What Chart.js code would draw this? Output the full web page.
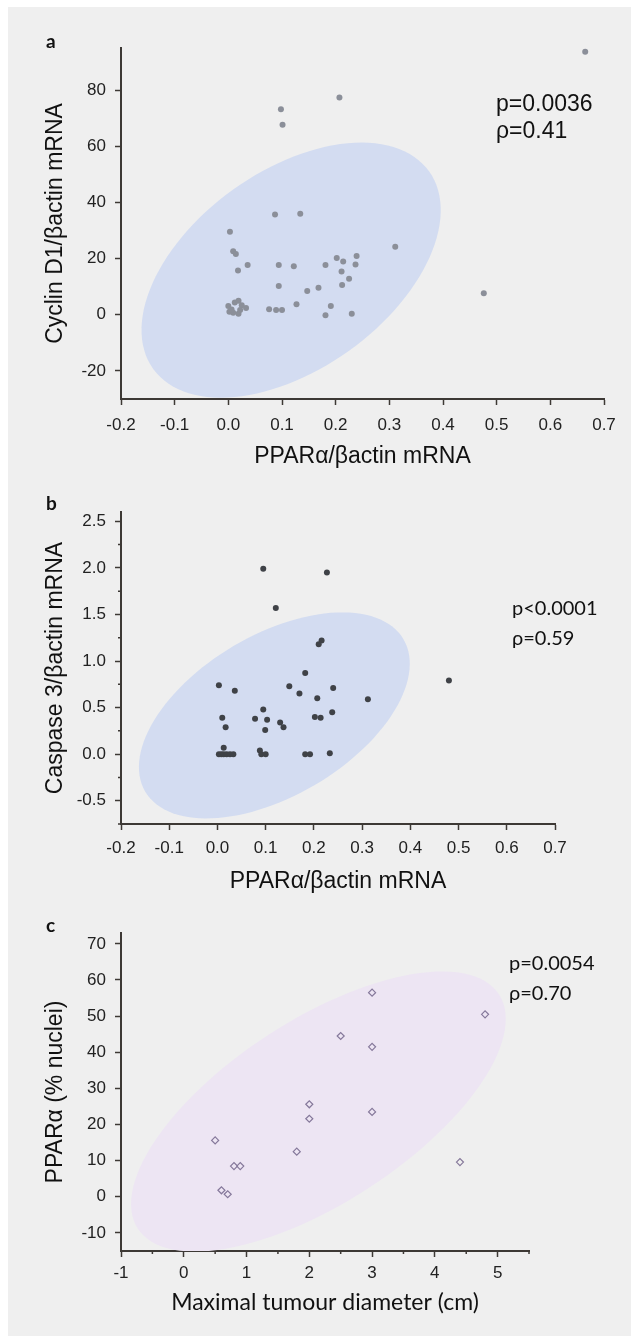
<!DOCTYPE html>
<html>
<head>
<meta charset="utf-8">
<script src="https://cdn.jsdelivr.net/npm/chart.js@4.4.0/dist/chart.umd.min.js"></script>
<style>
  body { margin: 0; background: #fff; width: 643px; height: 1343px; position: relative; overflow: hidden; }
  #sheet { position: absolute; left: 8px; top: 7px; width: 623px; height: 1329px; background: #efefef; }
  canvas { position: absolute; left: 0; }
  .letter { position: absolute; font: bold 19px Lato, sans-serif; line-height: 19px; color: #111; }
  .stat { position: absolute; color: #111; white-space: pre; }
  .arial { font: 23px "Liberation Sans", Arial, sans-serif; line-height: 27px; }
  .calibri { font: 20px Lato, sans-serif; line-height: 30px; }
</style>
</head>
<body>
<div id="sheet"></div>
<canvas id="chartA" width="643" height="490" style="top:0px"></canvas>
<canvas id="chartB" width="643" height="430" style="top:480px"></canvas>
<canvas id="chartC" width="643" height="443" style="top:900px"></canvas>

<div class="letter" style="left:46px;top:31px">a</div>
<div class="letter" style="left:46px;top:493px">b</div>
<div class="letter" style="left:46px;top:915px">c</div>

<div class="stat arial" style="left:496px;top:90px">p=0.0036
ρ=0.41</div>
<div class="stat calibri" style="left:512px;top:592px">p&lt;0.0001
ρ=0.59</div>
<div class="stat calibri" style="left:509px;top:947px">p=0.0054
ρ=0.70</div>

<script>
// a: Cyclin D1 vs PPARa
const aX = [0.087, 0.134, 0.003, 0.009, 0.014, 0.018, 0.036, 0.094, 0.122, 0.094, 0.181, 0.202, 0.214, 0.239, 0.237,
  0.211, 0.225, 0.212, 0.168, 0.147, 0.127, 0.191, 0.181, 0.230, 0.076, 0.089, 0.100, 0.311,
  0.000, 0.012, 0.019, 0.025, 0.033, 0.002, 0.009, 0.019, 0.006, 0.022,
  0.098, 0.101, 0.207, 0.665, 0.476];
const aY = [35.7, 36.0, 29.6, 22.6, 21.6, 15.8, 17.7, 17.7, 17.3, 10.2, 17.7, 20.2, 19.0, 20.9, 17.9,
  15.4, 12.8, 10.6, 9.6, 8.5, 3.7, 3.1, -0.2, 0.4, 2.0, 1.7, 1.7, 24.2,
  3.1, 4.4, 5.0, 3.4, 2.4, 1.1, 0.7, 0.4, 1.9, 1.7,
  73.2, 67.7, 77.4, 93.7, 7.7];

// b: Caspase 3 vs PPARa
const bX = [0.121, 0.216, 0.210, 0.182, 0.003, 0.036, 0.149, 0.170, 0.240, 0.207, 0.312, 0.095, 0.010, 0.078,
  0.103, 0.202, 0.214, 0.238, 0.017, 0.130, 0.137, 0.099,
  0.003, 0.008, 0.013, 0.019, 0.026, 0.033, 0.013, 0.088, 0.091, 0.100, 0.182, 0.192, 0.233,
  0.095, 0.227, 0.480];
const bY = [1.57, 1.22, 1.18, 0.87, 0.74, 0.68, 0.73, 0.65, 0.71, 0.60, 0.59, 0.48, 0.39, 0.38,
  0.37, 0.40, 0.39, 0.45, 0.29, 0.34, 0.29, 0.26,
  0, 0, 0, 0, 0, 0, 0.07, 0.04, 0, 0, 0, 0, 0.01,
  1.99, 1.95, 0.79];

// c: PPARa nuclei vs tumour diameter
const cX = [0.5, 0.6, 0.7, 0.8, 0.9, 1.8, 2.0, 2.0, 2.5, 3.0, 3.0, 3.0, 4.4, 4.8];
const cY = [15.6, 1.8, 0.7, 8.5, 8.5, 12.5, 25.6, 21.6, 44.5, 56.5, 41.5, 23.5, 9.6, 50.5];

// confidence ellipses, centre + two half-diameters in data units
const aEllipse = { cx: 0.117, cy: 15.9, ux: 0.257, uy: 35.2, vx: -0.108, vy: 28.7 };
const bEllipse = { cx: 0.118, cy: 0.416, ux: 0.268, uy: 0.816, vx: -0.084, vy: 0.747 };
const cEllipse = { cx: 2.145, cy: 23.6, ux: 2.879, uy: 32.36, vx: -0.788, vy: 21.33 };

const bMinorTicks = [-0.75, -0.25, 0.25, 0.75, 1.25, 1.75, 2.25];
const cMinorTicks = [-0.5, 0.5, 1.5, 2.5, 3.5, 4.5, 5.5];

const axisColor = '#3d3935';
const arial = '"Liberation Sans", Arial, sans-serif';

const ellipsePlugin = {
  id: 'ellipse',
  beforeDatasetsDraw(chart, args, opts) {
    const { ctx, chartArea, scales: { x, y } } = chart;
    const e = opts.shape;
    if (!e) return;
    ctx.save();
    ctx.beginPath();
    ctx.rect(chartArea.left, chartArea.top, chartArea.width, chartArea.height);
    ctx.clip();
    ctx.beginPath();
    for (let i = 0; i <= 120; i++) {
      const t = i / 120 * Math.PI * 2;
      const px = x.getPixelForValue(e.cx + e.ux * Math.cos(t) + e.vx * Math.sin(t));
      const py = y.getPixelForValue(e.cy + e.uy * Math.cos(t) + e.vy * Math.sin(t));
      if (i === 0) ctx.moveTo(px, py); else ctx.lineTo(px, py);
    }
    ctx.closePath();
    ctx.fillStyle = opts.color;
    ctx.fill();
    ctx.restore();
  }
};

const minorTickPlugin = {
  id: 'minorTicks',
  afterDraw(chart, args, opts) {
    if (!opts.values) return;
    const { ctx } = chart;
    const scale = chart.scales[opts.axis];
    ctx.save();
    ctx.strokeStyle = axisColor;
    ctx.lineWidth = 1.5;
    ctx.beginPath();
    opts.values.forEach(v => {
      const p = scale.getPixelForValue(v);
      if (opts.axis === 'y') {
        ctx.moveTo(chart.chartArea.left - opts.length, p);
        ctx.lineTo(chart.chartArea.left, p);
      } else {
        ctx.moveTo(p, chart.chartArea.bottom);
        ctx.lineTo(p, chart.chartArea.bottom + opts.length);
      }
    });
    ctx.stroke();
    ctx.restore();
  }
};

const makeAxis = (opt) => ({
  type: 'linear',
  min: opt.min,
  max: opt.max,
  afterFit: opt.fit,
  border: { display: true, color: axisColor, width: 2 },
  grid: { display: true, drawOnChartArea: false, drawTicks: true, tickLength: 6, tickColor: axisColor, tickWidth: 1.5 },
  ticks: {
    stepSize: opt.step,
    includeBounds: false,
    autoSkip: false,
    maxRotation: 0,
    padding: opt.pad,
    color: '#222',
    font: { family: arial, size: 17 },
    callback: opt.format
  },
  title: {
    display: true,
    text: opt.title,
    color: '#111',
    font: { family: opt.titleFont || arial, size: 23, lineHeight: 1 },
    padding: opt.titlePad
  }
});

const renderScatter = (id, points, style, cfg) => {
  const ctx = document.getElementById(id).getContext('2d');
  return new Chart(ctx, {
    type: 'scatter',
    data: {
      datasets: [{
        data: points,
        ...style
      }]
    },
    options: {
      responsive: false,
      animation: false,
      devicePixelRatio: 1,
      layout: { padding: cfg.padding },
      plugins: {
        legend: { display: false },
        tooltip: { enabled: false },
        ellipse: { shape: cfg.ellipse, color: cfg.ellipseColor },
        minorTicks: cfg.minor || {}
      },
      scales: {
        x: makeAxis(cfg.x),
        y: makeAxis(cfg.y)
      }
    },
    plugins: [ellipsePlugin, minorTickPlugin]
  });
};

const toPoints = (xs, ys) => xs.map((x, i) => ({ x, y: ys[i] }));
const clean = (v) => Math.abs(v) < 1e-9 ? 0 : v;
const oneDecimal = (v) => clean(v).toFixed(1);
const integer = (v) => Math.round(clean(v)).toString();
const wholeOnly = (v) => Number.isInteger(Math.round(v * 1000) / 1000) ? Math.round(clean(v)).toString() : '';

renderScatter('chartA', toPoints(aX, aY),
  { pointRadius: 3, pointBackgroundColor: '#8b8f99', pointBorderWidth: 0 },
  {
    padding: { top: 48, right: 39, left: 0, bottom: 11 },
    ellipse: aEllipse, ellipseColor: '#d3dcf1',
    x: { min: -0.2, max: 0.7, step: 0.1, pad: 10, format: oneDecimal, title: 'PPARα/βactin mRNA',
      titlePad: { top: 0, bottom: 10.5 }, fit: (s) => { s.height = 80; } },
    y: { min: -30, max: 95, step: 20, pad: 9, format: integer, title: 'Cyclin D1/βactin mRNA',
      titlePad: { top: 44.5, bottom: 0 }, fit: (s) => { s.width = 121; } }
  });

renderScatter('chartB', toPoints(bX, bY),
  { pointRadius: 3, pointBackgroundColor: '#3f4247', pointBorderWidth: 0 },
  {
    padding: { top: 32, right: 88, left: 0, bottom: 16 },
    ellipse: bEllipse, ellipseColor: '#d3dcf1',
    minor: { axis: 'y', values: bMinorTicks, length: 3 },
    x: { min: -0.2, max: 0.7, step: 0.1, pad: 8, format: oneDecimal, title: 'PPARα/βactin mRNA',
      titlePad: { top: 0, bottom: 0.5 }, fit: (s) => { s.height = 70; } },
    y: { min: -0.75, max: 2.6, step: 0.5, pad: 9, format: oneDecimal, title: 'Caspase 3/βactin mRNA',
      titlePad: { top: 44.5, bottom: 0 }, fit: (s) => { s.width = 121; } }
  });

renderScatter('chartC', toPoints(cX, cY),
  { pointStyle: 'rectRot', pointRadius: 3.5, pointBackgroundColor: 'rgba(0,0,0,0)', pointBorderColor: '#85789a', pointBorderWidth: 1.2 },
  {
    padding: { top: 33, right: 114, left: 0, bottom: 22 },
    ellipse: cEllipse, ellipseColor: '#ede5f3',
    minor: { axis: 'x', values: cMinorTicks, length: 3 },
    x: { min: -1, max: 5.5, step: 1, pad: 6, format: wholeOnly, title: 'Maximal tumour diameter (cm)',
      titleFont: 'Lato, sans-serif', titlePad: { top: 0, bottom: 6.5 }, fit: (s) => { s.height = 70; } },
    y: { min: -15, max: 73, step: 10, pad: 9, format: integer, title: 'PPARα (% nuclei)',
      titlePad: { top: 44.5, bottom: 0 }, fit: (s) => { s.width = 121; } }
  });
</script>
</body>
</html>
